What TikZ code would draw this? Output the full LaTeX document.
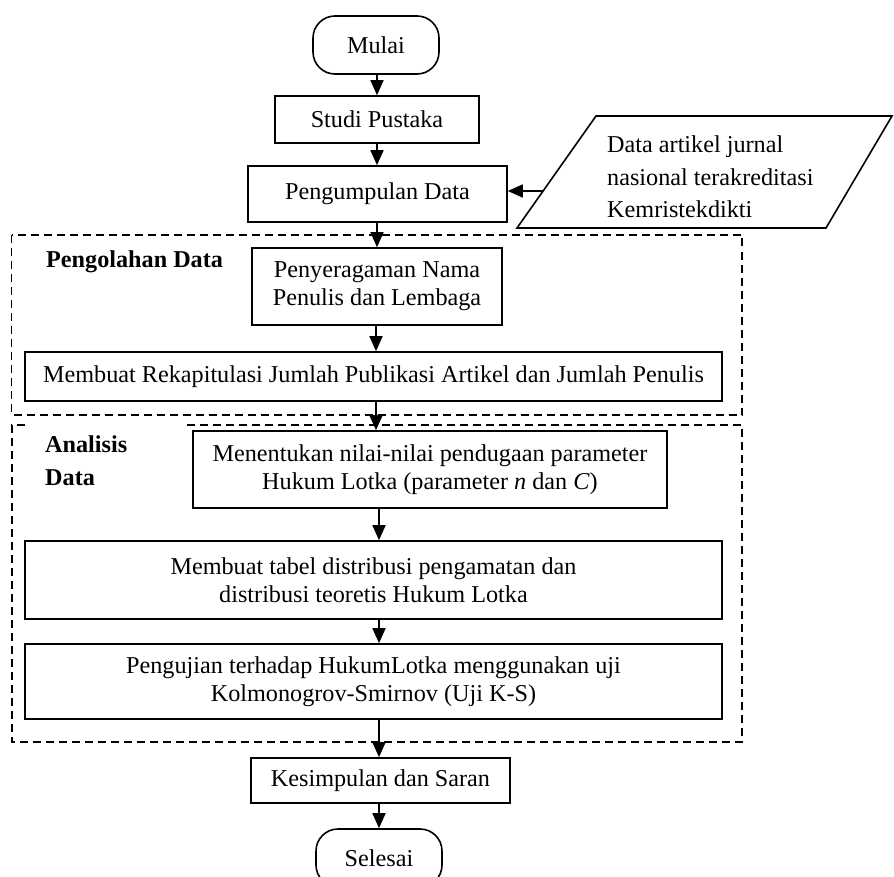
\documentclass[tikz,border=0pt]{standalone}
\usepackage{fontspec}
\setmainfont{Liberation Serif}
\usetikzlibrary{arrows.meta}
\newcommand{\fsz}{\fontsize{24.2}{28}\selectfont}
\tikzset{
  box/.style={draw, line width=1.6pt, inner sep=0pt, align=center, font=\fsz},
  term/.style={box, rounded corners=22pt, minimum width=126pt, minimum height=58pt},
  arr/.style={line width=1.7pt, -{Triangle[length=15pt,width=13pt]}},
  grp/.style={line width=1.3pt, dash pattern=on 8pt off 5pt},
  lbl/.style={font=\fsz\bfseries, inner sep=0pt, anchor=west, align=left},
}
\begin{document}
\begin{tikzpicture}[x=1pt,y=-1pt]
\useasboundingbox (0,0) rectangle (894,877);
\clip (0,0) rectangle (894,877);
% dashed groups
\draw[grp] (11.5,235) rectangle (742,415);
\draw[grp] (25,425) -- (12,425) -- (12,742) -- (742,742) -- (742,425) -- (185,425);
% nodes
\node[term] (mulai) at (376,45) {Mulai};
\node[box, minimum width=204pt, minimum height=47pt] (studi) at (377,119.5) {Studi Pustaka};
\node[box, minimum width=259pt, minimum height=56pt] (kumpul) at (377.5,194) {Pengumpulan Data};
\node[box, minimum width=250pt, minimum height=77pt] (seragam) at (377,286.5) {Penyeragaman Nama\\Penulis dan Lembaga};
\node[box, minimum width=697pt, minimum height=49pt] (rekap) at (373.5,376.5) {Membuat Rekapitulasi Jumlah Publikasi Artikel dan Jumlah Penulis};
\node[box, minimum width=474pt, minimum height=77pt] (tentukan) at (430,469.5) {Menentukan nilai-nilai pendugaan parameter\\Hukum Lotka (parameter \textit{n} dan \textit{C})};
\node[box, minimum width=697pt, minimum height=78pt] (tabel) at (373.5,580) {Membuat tabel distribusi pengamatan dan\\distribusi teoretis Hukum Lotka};
\node[box, minimum width=697pt, minimum height=75pt] (uji) at (373.5,681.5) {Pengujian terhadap HukumLotka menggunakan uji\\Kolmonogrov-Smirnov (Uji K-S)};
\node[box, minimum width=259pt, minimum height=45pt] (simpul) at (380.5,780.5) {Kesimpulan dan Saran};
\node[term] (selesai) at (379,858) {Selesai};
% group labels
\node[lbl] (lolah) at (46,262) {Pengolahan Data};
\node[lbl, font=\fontsize{24.2}{33}\selectfont\bfseries] (lanalisis) at (45,461) {Analisis\\Data};
% input parallelogram
\coordinate (p1) at (596,116);
\coordinate (p2) at (892,116);
\coordinate (p3) at (826,228);
\coordinate (p4) at (517,228);
\draw[line width=1.6pt] (p1) -- (p2) -- (p3) -- (p4) -- cycle;
\node[font=\fontsize{24.2}{32.5}\selectfont, align=left, inner sep=0pt, anchor=west] (data) at (607,177) {Data artikel jurnal\\nasional terakreditasi\\Kemristekdikti};
\coordinate (pin) at (543,191);
% connectors
\coordinate (xa) at (377,0);
\coordinate (xb) at (376,0);
\coordinate (xc) at (379,0);
\draw[arr] (mulai.south -| xa) -- (studi.north -| xa);
\draw[arr] (studi.south -| xa) -- (kumpul.north -| xa);
\draw[arr] (kumpul.south -| xa) -- (seragam.north -| xa);
\draw[arr] (seragam.south -| xb) -- (rekap.north -| xb);
\draw[arr] (rekap.south -| xb) -- (tentukan.north -| xb);
\draw[arr] (tentukan.south -| xc) -- (tabel.north -| xc);
\draw[arr] (tabel.south -| xc) -- (uji.north -| xc);
\draw[arr] (uji.south -| xc) -- (simpul.north -| xc);
\draw[arr] (simpul.south -| xc) -- (selesai.north -| xc);
\draw[arr] (pin) -- (pin -| kumpul.east);
\end{tikzpicture}
\end{document}
